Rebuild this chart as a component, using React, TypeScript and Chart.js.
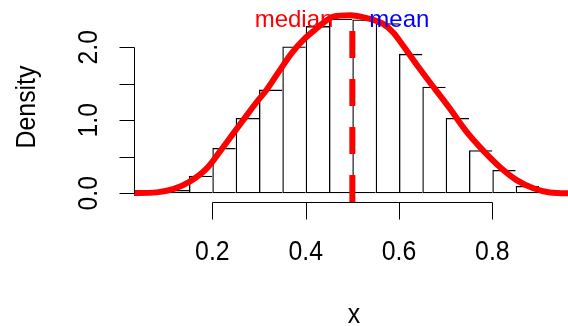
import React, { useEffect, useRef } from "react";
import { Chart, registerables } from "chart.js";

Chart.register(...registerables);

// Histogram bins (centres, width 0.05) and densities
const binCenters = [0.125, 0.175, 0.225, 0.275, 0.325, 0.375, 0.425, 0.475, 0.525, 0.575, 0.625, 0.675, 0.725, 0.775, 0.825, 0.875];
const binDensity = [0.045, 0.24, 0.62, 1.03, 1.42, 2.01, 2.29, 2.39, 2.38, 2.33, 1.91, 1.46, 1.03, 0.59, 0.32, 0.1];

// Kernel density curve
const curveX = [0.0, 0.031, 0.081, 0.116, 0.152, 0.188, 0.216, 0.245, 0.274, 0.295, 0.316, 0.345, 0.37, 0.395, 0.42, 0.445, 0.459, 0.495, 0.531, 0.566, 0.588, 0.609, 0.638, 0.666, 0.695, 0.709, 0.745, 0.781, 0.816, 0.852, 0.888, 0.923, 0.96, 1.0];
const curveY = [0.0, 0.002, 0.012, 0.055, 0.16, 0.34, 0.57, 0.82, 1.07, 1.25, 1.415, 1.69, 1.92, 2.1, 2.24, 2.37, 2.42, 2.44, 2.4, 2.32, 2.2, 2.02, 1.76, 1.52, 1.28, 1.16, 0.84, 0.58, 0.36, 0.18, 0.068, 0.01, 0.0, 0.0];

// Axis ticks
const xTickValues = [0.2, 0.4, 0.6, 0.8];
const xTickLabels = ["0.2", "0.4", "0.6", "0.8"];
const yTickValues = [0, 0.5, 1, 1.5, 2];
const yTickLabels = ["0.0", "", "1.0", "", "2.0"];

// Summary statistics
const medianValue = 0.5;
const meanValue = 0.5;
const medianLineTop = 2.43;
const statLabelY = 2.28;

const xTitle = "x";
const yTitle = "Density";

const X_MIN = 0.0321;
const X_MAX = 0.9621;
const Y_MIN = -0.12;
const Y_MAX = 2.579;

const FONT = "'Liberation Sans', Arial, Helvetica, sans-serif";

function drawText(
  ctx: CanvasRenderingContext2D,
  text: string,
  x: number,
  y: number,
  opts: { rot?: number; size: number; sx?: number; align?: CanvasTextAlign; color?: string }
) {
  ctx.save();
  ctx.translate(x, y);
  if (opts.rot) ctx.rotate(opts.rot);
  ctx.scale(opts.sx ?? 1, 1);
  ctx.font = `${opts.size}px ${FONT}`;
  ctx.textAlign = opts.align ?? "center";
  ctx.textBaseline = "alphabetic";
  ctx.fillStyle = opts.color ?? "#000";
  ctx.fillText(text, 0, 0);
  ctx.restore();
}

const rAxesPlugin = {
  id: "rAxes",
  afterDatasetsDraw(chart: any) {
    const ctx: CanvasRenderingContext2D = chart.ctx;
    const xs = chart.scales.x;
    const ys = chart.scales.y;
    const area = chart.chartArea;
    ctx.save();
    ctx.strokeStyle = "#000";
    ctx.lineWidth = 1;

    // y axis (R style: line spans first..last tick)
    const yAxisX = Math.round(area.left) + 0.5;
    const yp = (v: number) => Math.round(ys.getPixelForValue(v)) + 0.5;
    ctx.beginPath();
    ctx.moveTo(yAxisX, yp(yTickValues[0]));
    ctx.lineTo(yAxisX, yp(yTickValues[yTickValues.length - 1]));
    yTickValues.forEach((v) => {
      ctx.moveTo(yAxisX, yp(v));
      ctx.lineTo(yAxisX - 15, yp(v));
    });
    ctx.stroke();

    // x axis
    const xAxisY = Math.round(area.bottom) + 0.5;
    const xp = (v: number) => Math.round(xs.getPixelForValue(v)) + 0.5;
    ctx.beginPath();
    ctx.moveTo(xp(xTickValues[0]), xAxisY);
    ctx.lineTo(xp(xTickValues[xTickValues.length - 1]), xAxisY);
    xTickValues.forEach((v) => {
      ctx.moveTo(xp(v), xAxisY);
      ctx.lineTo(xp(v), xAxisY + 17);
    });
    ctx.stroke();

    // tick labels
    xTickValues.forEach((v, i) => {
      drawText(ctx, xTickLabels[i], xs.getPixelForValue(v), 260, { size: 27, sx: 0.92 });
    });
    yTickValues.forEach((v, i) => {
      if (!yTickLabels[i]) return;
      drawText(ctx, yTickLabels[i], 96.5, ys.getPixelForValue(v), { size: 27, sx: 0.92, rot: -Math.PI / 2 });
    });

    // axis titles
    drawText(ctx, xTitle, 354, 323, { size: 27, sx: 0.92 });
    drawText(ctx, yTitle, 35, 107, { size: 27, sx: 0.92, rot: -Math.PI / 2 });

    // median / mean labels
    const ly = ys.getPixelForValue(statLabelY);
    drawText(ctx, "median", xs.getPixelForValue(medianValue) - 19, ly, { size: 24, align: "right", color: "#FF0000" });
    drawText(ctx, "mean", xs.getPixelForValue(meanValue) + 17, ly, { size: 24, align: "left", color: "#0000FF" });

    ctx.restore();
  },
};

export default function App() {
  const ref = useRef<HTMLCanvasElement>(null);

  useEffect(() => {
    document.body.style.margin = "0";
    const lastBin = binCenters.length - 1;
    const chart = new Chart(ref.current as HTMLCanvasElement, {
      type: "bar",
      data: {
        datasets: [
          {
            type: "line",
            label: "median",
            data: [
              { x: medianValue, y: Y_MIN },
              { x: medianValue, y: medianLineTop },
            ],
            borderColor: "#FF0000",
            borderWidth: 6,
            borderDash: [27, 21],
            borderCapStyle: "butt",
            pointRadius: 0,
            order: 1,
          } as any,
          {
            type: "line",
            label: "density",
            data: curveX.map((x, i) => ({ x, y: curveY[i] })),
            borderColor: "#FF0000",
            borderWidth: 6,
            pointRadius: 0,
            cubicInterpolationMode: "monotone",
            borderJoinStyle: "round",
            order: 2,
          } as any,
          {
            type: "bar",
            label: "hist",
            data: binCenters.map((x, i) => ({ x, y: binDensity[i] })),
            backgroundColor: "rgba(255,255,255,0)",
            borderColor: "#000000",
            borderWidth: (c: any) => ({ top: 1.3, left: 1.3, bottom: 1.3, right: c.dataIndex === lastBin ? 1.3 : 0 }),
            borderSkipped: false,
            barPercentage: 1,
            categoryPercentage: 1,
            inflateAmount: 0,
            order: 3,
          } as any,
        ],
      },
      options: {
        responsive: false,
        devicePixelRatio: 1,
        animation: false,
        events: [],
        layout: { padding: { left: 134, top: 5, right: 0, bottom: 124 } },
        plugins: { legend: { display: false }, tooltip: { enabled: false } },
        scales: {
          x: {
            type: "linear",
            display: false,
            min: X_MIN,
            max: X_MAX,
            offset: false,
            afterBuildTicks: (s: any) => {
              s.ticks = xTickValues.map((value) => ({ value }));
            },
          },
          y: {
            type: "linear",
            display: false,
            min: Y_MIN,
            max: Y_MAX,
            afterBuildTicks: (s: any) => {
              s.ticks = yTickValues.map((value) => ({ value }));
            },
          },
        },
      } as any,
      plugins: [rAxesPlugin],
    });
    return () => chart.destroy();
  }, []);

  return (
    <div style={{ position: "absolute", left: 0, top: 0, width: 568, height: 326, background: "#ffffff" }}>
      <canvas ref={ref} width={568} height={326} style={{ display: "block", width: 568, height: 326 }} />
    </div>
  );
}
